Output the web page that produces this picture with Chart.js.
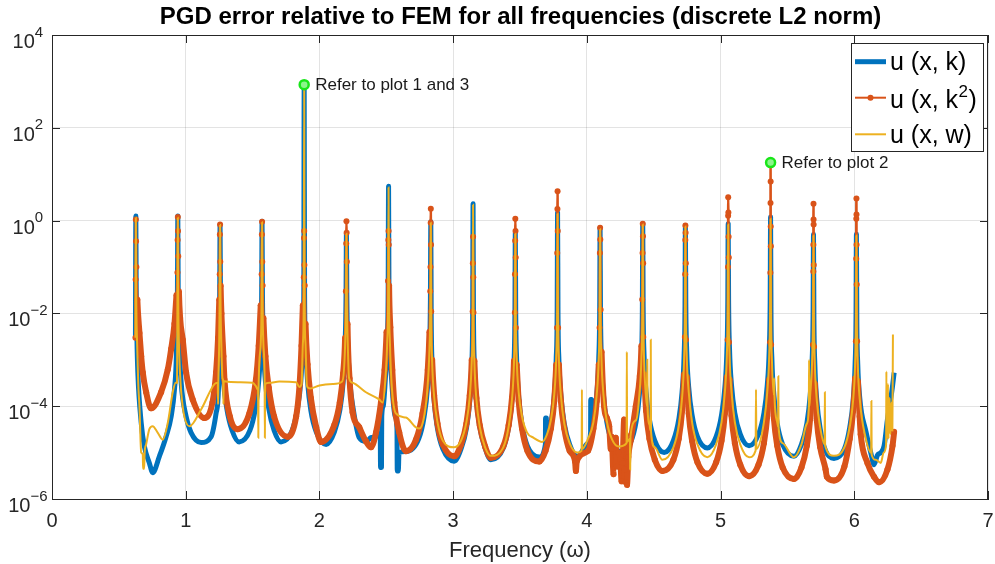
<!DOCTYPE html>
<html>
<head>
<meta charset="utf-8">
<script src="https://cdn.jsdelivr.net/npm/chart.js@4.4.1/dist/chart.umd.min.js"></script>
<style>
html,body{margin:0;padding:0;background:#ffffff;}
#wrap{width:995px;height:564px;position:relative;}
</style>
</head>
<body>
<div id="wrap"><canvas id="c" width="995" height="564"></canvas></div>
<script>
// ---------------- data ----------------
const titleText = "PGD error relative to FEM for all frequencies (discrete L2 norm)";
const xAxisTitle = "Frequency (\u03c9)";
const xTickValues = [0, 1, 2, 3, 4, 5, 6, 7];
const yTickValues = [1e-6, 1e-4, 1e-2, 1e0, 1e2, 1e4];
const seriesNames = ["u (x, k)", "u (x, k\u00b2)", "u (x, w)"];

// u(x,k)
const kFreq = [
 0.624, 0.627,
 0.630, 0.635, 0.642, 0.667, 0.691, 0.728, 0.753, 0.803, 0.853, 0.891, 0.916, 0.931, 0.938, 0.941,
 0.944, 0.951, 0.966, 1.003, 1.040, 1.115, 1.190, 1.227, 1.245, 1.251, 1.254, 1.257,
 1.260, 1.267, 1.282, 1.307, 1.347, 1.400, 1.480, 1.521, 1.546, 1.561, 1.568, 1.571,
 1.574, 1.581, 1.596, 1.621, 1.661, 1.713, 1.796, 1.836, 1.861, 1.876, 1.883, 1.886,
 1.889, 1.896, 1.911, 1.936, 1.976, 2.050, 2.112, 2.152, 2.177, 2.192, 2.199, 2.202,
 2.205, 2.212, 2.227, 2.252, 2.298, 2.348, 2.386, 2.420, 2.455, 2.457, 2.464, 2.466, 2.477, 2.492, 2.507, 2.514, 2.517,
 2.520, 2.527, 2.542, 2.567, 2.580, 2.582, 2.590, 2.595, 2.647, 2.743, 2.783, 2.808, 2.823, 2.830, 2.833,
 2.836, 2.843, 2.858, 2.883, 2.923, 3.008, 3.059, 3.099, 3.124, 3.139, 3.146, 3.149,
 3.152, 3.159, 3.174, 3.199, 3.239, 3.282, 3.375, 3.415, 3.440, 3.455, 3.462, 3.465,
 3.468, 3.475, 3.490, 3.515, 3.555, 3.644, 3.690, 3.691, 3.697, 3.698, 3.731, 3.756, 3.771, 3.778, 3.781,
 3.784, 3.791, 3.806, 3.831, 3.871, 3.928, 4.009, 4.028, 4.029, 4.035, 4.036, 4.049, 4.074, 4.089, 4.096, 4.099,
 4.102, 4.109, 4.124, 4.149, 4.189, 4.254, 4.328, 4.368, 4.393, 4.408, 4.415, 4.418,
 4.421, 4.428, 4.443, 4.468, 4.508, 4.578, 4.647, 4.687, 4.712, 4.727, 4.734, 4.737,
 4.740, 4.747, 4.762, 4.787, 4.827, 4.901, 4.967, 5.007, 5.032, 5.047, 5.054, 5.057,
 5.060, 5.067, 5.082, 5.107, 5.147, 5.213, 5.284, 5.324, 5.349, 5.364, 5.371, 5.374,
 5.377, 5.384, 5.399, 5.424, 5.464, 5.549, 5.605, 5.645, 5.670, 5.685, 5.692, 5.695,
 5.698, 5.705, 5.720, 5.745, 5.785, 5.848, 5.926, 5.966, 5.991, 6.006, 6.013, 6.016,
 6.019, 6.026, 6.041, 6.055, 6.083, 6.123, 6.148, 6.173, 6.198, 6.223, 6.248, 6.275, 6.286, 6.298
];
const kErr = [
 3e-3, 1.26,
 0.03, 3e-3, 5.3e-4, 4.4e-5, 1.35e-5, 6e-6, 3.7e-6, 8.3e-6, 2.2e-5, 6e-5, 2.3e-4, 1.5e-3, 0.03, 1.26,
 0.025, 2.5e-3, 3.2e-4, 6e-5, 2.7e-5, 1.65e-5, 2.2e-5, 7e-5, 2.3e-4, 2e-3, 0.025, 0.82,
 0.025, 2.2e-3, 3.5e-4, 9e-5, 3e-5, 1.7e-5, 3e-5, 9e-5, 3.5e-4, 2.2e-3, 0.025, 0.97,
 0.025, 2.2e-3, 3.5e-4, 9e-5, 3e-5, 1.7e-5, 3e-5, 9e-5, 3.5e-4, 2.2e-3, 0.025, 850,
 0.025, 2.2e-3, 3.5e-4, 8e-5, 2.8e-5, 1.5e-5, 2.8e-5, 8e-5, 3.2e-4, 2.1e-3, 0.025, 0.55,
 0.025, 2.2e-3, 3.5e-4, 9e-5, 2.1e-5, 1.75e-5, 2.1e-5, 2.2e-5, 2.6e-5, 4.8e-6, 4.8e-6, 6e-5, 1e-4, 3.5e-4, 2.5e-3, 0.03, 5.5,
 0.03, 2.5e-3, 3e-4, 6e-5, 3.2e-5, 4e-6, 4e-6, 1e-5, 1.05e-5, 2e-5, 6e-5, 2.5e-4, 1.8e-3, 0.02, 0.95,
 9e-3, 8e-4, 1.3e-4, 3.3e-5, 1.2e-5, 6.5e-6, 1.2e-5, 3.3e-5, 1.3e-4, 8e-4, 9e-3, 2.3,
 9.6e-3, 8.6e-4, 1.4e-4, 3.6e-5, 1.25e-5, 7e-6, 1.25e-5, 3.6e-5, 1.4e-4, 8.6e-4, 9.6e-3, 0.55,
 0.011, 1e-3, 1.6e-4, 4e-5, 1.4e-5, 8e-6, 1.5e-5, 5.6e-5, 5.6e-5, 2.2e-5, 4.2e-5, 1.7e-4, 1.1e-3, 0.012, 1.5,
 0.012, 1e-3, 1.7e-4, 4.2e-5, 1.5e-5, 8.3e-6, 1.6e-5, 2.8e-5, 1.4e-4, 1.4e-4, 3.4e-5, 4.5e-5, 1.8e-4, 1.1e-3, 0.012, 0.7,
 0.012, 1.1e-3, 1.8e-4, 4.6e-5, 1.7e-5, 1.05e-5, 1.7e-5, 4.6e-5, 1.8e-4, 1.1e-3, 0.012, 0.86,
 0.014, 1.2e-3, 2e-4, 5.1e-5, 1.8e-5, 1e-5, 1.8e-5, 5.1e-5, 2e-4, 1.2e-3, 0.014, 0.78,
 0.017, 1.5e-3, 2.5e-4, 6.4e-5, 2.2e-5, 1.26e-5, 2.2e-5, 6.4e-5, 2.5e-4, 1.5e-3, 0.017, 0.86,
 0.019, 1.7e-3, 2.8e-4, 7e-5, 2.5e-5, 1.4e-5, 2.5e-5, 7e-5, 2.8e-4, 1.7e-3, 0.019, 1.2,
 0.011, 1e-3, 1.7e-4, 4.2e-5, 1.5e-5, 8.3e-6, 1.5e-5, 4.2e-5, 1.7e-4, 1e-3, 0.011, 0.5,
 8.8e-3, 8e-4, 1.3e-4, 3.3e-5, 1.1e-5, 7.5e-6, 1.2e-5, 3.5e-5, 1.3e-4, 8e-4, 8.8e-3, 0.51,
 8e-3, 8e-4, 1.5e-4, 7e-5, 3.2e-5, 1e-5, 5.5e-6, 8.8e-6, 1e-5, 1.4e-5, 5.2e-5, 1.6e-4, 2.7e-4, 5.3e-4
];

// u(x,k^2)
const k2Freq = [
 0.624, 0.6255, 0.627, 0.6285,
 0.631, 0.638, 0.654, 0.667, 0.679, 0.704, 0.741, 0.816, 0.866, 0.891, 0.916, 0.931, 0.938,
 0.9395, 0.941, 0.9425, 0.944,
 0.949, 0.958, 0.978, 1.003, 1.052, 1.140, 1.200, 1.227, 1.242, 1.251, 1.2545,
 1.2555, 1.257, 1.2585,
 1.261, 1.267, 1.282, 1.290, 1.330, 1.389, 1.476, 1.525, 1.546, 1.561, 1.568,
 1.5695, 1.571, 1.5725,
 1.575, 1.581, 1.596, 1.621, 1.661, 1.762, 1.826, 1.851, 1.866, 1.876, 1.883,
 1.8845, 1.886, 1.8875,
 1.890, 1.896, 1.911, 1.936, 1.976, 2.012, 2.112, 2.152, 2.177, 2.192, 2.198,
 2.2005, 2.202, 2.2035, 2.205,
 2.210, 2.225, 2.248, 2.298, 2.348, 2.386, 2.423, 2.460, 2.487, 2.502, 2.513,
 2.5155, 2.517, 2.5185,
 2.521, 2.530, 2.545, 2.560, 2.597, 2.647, 2.722, 2.771, 2.810, 2.823, 2.829,
 2.8305, 2.832, 2.833, 2.8345,
 2.836, 2.843, 2.858, 2.883, 2.923, 3.008, 3.059, 3.099, 3.124, 3.139, 3.146,
 3.1475, 3.149, 3.1505,
 3.152, 3.159, 3.174, 3.199, 3.239, 3.282, 3.375, 3.415, 3.440, 3.455, 3.4615,
 3.4625, 3.464, 3.465, 3.4665, 3.468,
 3.469, 3.475, 3.490, 3.515, 3.555, 3.644, 3.691, 3.731, 3.756, 3.771, 3.777,
 3.7785, 3.780, 3.781, 3.7825,
 3.785, 3.791, 3.806, 3.831, 3.871, 3.912, 3.918, 3.924, 4.009, 4.049, 4.074, 4.089, 4.095,
 4.0975, 4.099, 4.1005,
 4.103, 4.110, 4.129, 4.150, 4.167, 4.179, 4.185, 4.200, 4.205, 4.216, 4.225, 4.235, 4.250, 4.260, 4.268, 4.279, 4.283, 4.291, 4.293, 4.300, 4.310, 4.329, 4.366, 4.396, 4.408, 4.414,
 4.4165, 4.418, 4.4195, 4.421,
 4.422, 4.428, 4.443, 4.468, 4.508, 4.565, 4.647, 4.687, 4.712, 4.727, 4.733,
 4.7355, 4.7365, 4.737, 4.7385, 4.740,
 4.741, 4.747, 4.762, 4.787, 4.827, 4.901, 4.967, 5.007, 5.032, 5.047, 5.053,
 5.0555, 5.0565, 5.057, 5.0585, 5.060, 5.0615,
 5.063, 5.067, 5.082, 5.107, 5.147, 5.213, 5.284, 5.324, 5.349, 5.364, 5.370,
 5.3725, 5.3735, 5.374, 5.3745, 5.375, 5.376,
 5.378, 5.384, 5.399, 5.424, 5.464, 5.549, 5.605, 5.645, 5.670, 5.685, 5.691,
 5.6935, 5.694, 5.695, 5.6955, 5.696, 5.697,
 5.699, 5.705, 5.720, 5.745, 5.785, 5.795, 5.848, 5.926, 5.966, 5.991, 6.006, 6.012,
 6.0145, 6.015, 6.016, 6.0165, 6.017, 6.018,
 6.021, 6.027, 6.040, 6.048, 6.098, 6.148, 6.185, 6.248, 6.286, 6.298
];
const k2Err = [
 3e-3, 0.054, 1.05, 0.36,
 0.1, 0.02, 3.8e-3, 1.2e-3, 5.3e-4, 2e-4, 9e-5, 2e-4, 6.2e-4, 1.7e-3, 6e-3, 0.025, 0.076,
 0.38, 1.2, 0.6, 0.17,
 0.03, 8e-3, 2.7e-3, 5.3e-4, 1.4e-4, 5.6e-5, 1.2e-4, 5.3e-4, 3e-3, 0.02, 0.07,
 0.5, 0.82, 0.13,
 0.04, 0.01, 1.2e-3, 3.7e-4, 6e-5, 3.2e-5, 7e-5, 3.7e-4, 2e-3, 0.015, 0.07,
 0.5, 0.95, 0.13,
 0.04, 8e-3, 1.2e-3, 2.5e-4, 6e-5, 2.2e-5, 6e-5, 2.8e-4, 2e-3, 0.015, 0.06,
 0.42, 0.6, 0.11,
 0.04, 6e-3, 8e-4, 1.5e-4, 3.5e-5, 1.7e-5, 4e-5, 1.2e-4, 5e-4, 3e-3, 0.03,
 0.32, 0.97, 0.55, 0.13,
 6e-3, 4e-4, 7.4e-5, 3.5e-5, 1.75e-5, 1.3e-5, 2.7e-5, 1.2e-4, 6e-4, 4e-3, 0.05,
 0.38, 0.6, 0.3,
 0.04, 5e-3, 6e-4, 1.2e-4, 2.7e-5, 1.07e-5, 1.9e-5, 7e-5, 6e-4, 4e-3, 0.03,
 0.1, 0.9, 1.8, 0.3,
 0.011, 1e-3, 1.7e-4, 4.2e-5, 1.5e-5, 8.3e-6, 1.5e-5, 4.2e-5, 1.7e-4, 1e-3, 0.011,
 0.12, 0.45, 0.06,
 0.0105, 9.5e-4, 1.5e-4, 3.9e-5, 1.36e-5, 7.7e-6, 1.36e-5, 3.9e-5, 1.5e-4, 9.5e-4, 0.0105,
 0.07, 0.37, 1.1, 0.6, 0.16,
 4.9e-3, 7.9e-4, 1.3e-4, 3.3e-5, 1.1e-5, 6.4e-6, 1.1e-5, 3.3e-5, 1.3e-4, 7.9e-4, 4.9e-3,
 0.2, 1.78, 4.3, 0.6,
 4.9e-3, 7.9e-4, 1.3e-4, 3.3e-5, 1.1e-5, 6.4e-6, 4e-6, 6.4e-6, 1.1e-5, 3.3e-5, 1.3e-4, 7.9e-4, 4.9e-3,
 0.2, 0.7, 0.39,
 0.012, 1.5e-3, 1e-4, 5.5e-5, 3.7e-5, 1.2e-5, 2.2e-5, 3.4e-6, 1.6e-5, 2.1e-5, 5e-6, 1e-5, 7e-6, 2.4e-6, 6e-6, 5.2e-5, 4.3e-6, 2.3e-6, 2.4e-5, 2e-6, 8e-6, 1.9e-5, 1e-4, 4.5e-4, 2e-3, 0.02,
 0.2, 0.86, 0.46, 0.12,
 3.1e-3, 4.9e-4, 8e-5, 2e-5, 7e-6, 4e-6, 7e-6, 2e-5, 8e-5, 4.9e-4, 3.1e-3,
 0.07, 0.38, 0.78, 0.55, 0.12,
 2.7e-3, 4.3e-4, 7e-5, 1.8e-5, 6.2e-6, 3.5e-6, 6.2e-6, 1.8e-5, 7e-5, 4.3e-4, 2.7e-3,
 0.1, 1.27, 3.2, 1.5, 0.45, 0.16,
 2.4e-3, 3.8e-4, 6.2e-5, 1.6e-5, 5.5e-6, 3.1e-6, 5.5e-6, 1.6e-5, 6.2e-5, 3.8e-4, 2.4e-3,
 0.075, 2.4, 17.8, 7, 0.75, 0.28,
 2.1e-3, 3.3e-4, 5.4e-5, 1.4e-5, 4.8e-6, 2.7e-6, 4.8e-6, 1.4e-5, 5.4e-5, 3.3e-4, 2.1e-3,
 0.08, 0.3, 2.3, 1.05, 0.82, 0.11,
 1.9e-3, 3.1e-4, 5e-5, 1.3e-5, 4.4e-6, 3e-6, 2.5e-6, 5e-6, 2e-5, 8e-5, 4e-4, 2.5e-3,
 0.15, 1.1, 3.0, 1.35, 0.3, 0.042,
 2.5e-3, 3.5e-4, 6e-5, 2.5e-5, 6e-6, 3e-6, 2.3e-6, 4.3e-6, 1.4e-5, 2.8e-5
];

// u(x,w)
const wFreq = [
 0.624, 0.627,
 0.630, 0.636, 0.645, 0.654, 0.667, 0.679, 0.681, 0.689, 0.693, 0.704, 0.728, 0.753, 0.790, 0.828, 0.866, 0.903, 0.925, 0.935, 0.938, 0.941,
 0.944, 0.950, 0.962, 0.985, 1.028, 1.115, 1.215, 1.240, 1.242, 1.244, 1.250, 1.254, 1.257,
 1.260, 1.266, 1.275, 1.280, 1.282, 1.284, 1.300, 1.400, 1.500, 1.525, 1.538, 1.541, 1.543, 1.545, 1.561, 1.568, 1.571,
 1.574, 1.581, 1.590, 1.592, 1.594, 1.625, 1.700, 1.825, 1.850, 1.866, 1.876, 1.883, 1.886,
 1.889, 1.896, 1.905, 1.910, 1.930, 2.000, 2.100, 2.170, 2.192, 2.199, 2.202,
 2.205, 2.212, 2.222, 2.248, 2.348, 2.447, 2.473, 2.492, 2.507, 2.514, 2.517,
 2.520, 2.527, 2.540, 2.572, 2.647, 2.722, 2.747, 2.783, 2.808, 2.823, 2.830, 2.833,
 2.836, 2.843, 2.858, 2.883, 2.923, 3.008, 3.059, 3.099, 3.124, 3.139, 3.146, 3.149,
 3.152, 3.159, 3.174, 3.199, 3.239, 3.282, 3.375, 3.415, 3.440, 3.455, 3.462, 3.465,
 3.468, 3.475, 3.490, 3.515, 3.553, 3.600, 3.666, 3.700, 3.731, 3.756, 3.771, 3.778, 3.781,
 3.784, 3.791, 3.806, 3.831, 3.871, 3.928, 3.961, 3.963, 3.965, 4.009, 4.049, 4.074, 4.089, 4.096, 4.099,
 4.102, 4.109, 4.124, 4.149, 4.189, 4.240, 4.297, 4.299, 4.301, 4.322, 4.324, 4.326, 4.368, 4.393, 4.408, 4.415, 4.418,
 4.421, 4.428, 4.443, 4.450, 4.452, 4.454, 4.468, 4.476, 4.478, 4.480, 4.508, 4.565, 4.647, 4.687, 4.712, 4.727, 4.734, 4.737,
 4.740, 4.747, 4.762, 4.787, 4.827, 4.901, 4.967, 5.007, 5.032, 5.047, 5.054, 5.057,
 5.060, 5.067, 5.082, 5.107, 5.147, 5.213, 5.262, 5.265, 5.268, 5.324, 5.349, 5.364, 5.371, 5.374,
 5.377, 5.384, 5.399, 5.401, 5.403, 5.424, 5.430, 5.432, 5.434, 5.464, 5.549, 5.605, 5.645, 5.660, 5.662, 5.664, 5.670, 5.685, 5.692, 5.695,
 5.698, 5.705, 5.720, 5.745, 5.778, 5.780, 5.782, 5.848, 5.926, 5.966, 5.991, 6.006, 6.013, 6.016,
 6.019, 6.026, 6.041, 6.083, 6.126, 6.128, 6.130, 6.160, 6.198, 6.220, 6.238, 6.240, 6.242, 6.250, 6.252, 6.256, 6.265, 6.270, 6.278, 6.285, 6.289
];
const wErr = [
 3e-3, 1.15,
 0.025, 2.5e-3, 3e-4, 1e-4, 1e-5, 9e-6, 4.5e-6, 4.5e-6, 1e-5, 1.5e-5, 3.2e-5, 3.7e-5, 2.7e-5, 1.9e-5, 4.4e-5, 2e-4, 3.2e-4, 3.2e-4, 0.02, 1.15,
 0.02, 2e-3, 3e-4, 7e-5, 3.7e-5, 8.5e-5, 3e-4, 3.2e-4, 1.1e-4, 3.2e-4, 2e-3, 0.025, 0.8,
 0.025, 2.5e-3, 4e-4, 3.5e-4, 1.1e-4, 3.5e-4, 3.4e-4, 3.3e-4, 3.2e-4, 2.7e-4, 2.3e-4, 2.2e-4, 2.1e-5, 2.3e-4, 2.2e-3, 0.025, 0.92,
 0.025, 2.2e-3, 3.5e-4, 2.1e-5, 3e-4, 3.2e-4, 3.4e-4, 3.3e-4, 2.6e-4, 3e-4, 2.2e-3, 0.025, 850,
 0.025, 2.2e-3, 3e-4, 2.6e-4, 2.4e-4, 2.8e-4, 3e-4, 3.4e-4, 2.1e-3, 0.025, 0.52,
 0.025, 2.2e-3, 4e-4, 3.2e-4, 2e-4, 1.4e-4, 1.2e-4, 3.5e-4, 2.5e-3, 0.03, 5.2,
 0.03, 2.5e-3, 3e-4, 7e-5, 5.7e-5, 3.5e-5, 3.3e-5, 6e-5, 2.5e-4, 1.8e-3, 0.02, 0.9,
 9e-3, 9e-4, 1.6e-4, 4.5e-5, 1.8e-5, 1.3e-5, 1.8e-5, 4.5e-5, 1.6e-4, 9e-4, 9e-3, 2.2,
 9.6e-3, 8.6e-4, 1.4e-4, 3.6e-5, 1.3e-5, 8.5e-6, 1.3e-5, 3.6e-5, 1.4e-4, 8.6e-4, 9.6e-3, 0.52,
 0.011, 1.1e-3, 2e-4, 6e-5, 2.7e-5, 2.1e-5, 1.7e-5, 2.4e-5, 5e-5, 1.8e-4, 1.1e-3, 0.012, 1.4,
 0.012, 1e-3, 1.7e-4, 4.2e-5, 1.6e-5, 1e-5, 1.1e-5, 2.3e-4, 1.2e-5, 2e-5, 4.5e-5, 1.8e-4, 1.1e-3, 0.012, 0.65,
 0.012, 1.1e-3, 1.8e-4, 4.8e-5, 1.9e-5, 1.35e-5, 1.6e-5, 1.5e-3, 1.7e-5, 2e-5, 4.3e-6, 2.2e-5, 5e-5, 1.8e-4, 1.1e-3, 0.012, 0.82,
 0.012, 1e-3, 1.5e-4, 1e-4, 1e-3, 9e-5, 4e-5, 3e-5, 2.7e-3, 2.8e-5, 1.3e-5, 7e-6, 1.3e-5, 3.7e-5, 1.5e-4, 1e-3, 0.012, 0.75,
 0.014, 1.2e-3, 2e-4, 4.5e-5, 1.5e-5, 7.9e-6, 1.5e-5, 4.5e-5, 2e-4, 1.3e-3, 0.015, 0.82,
 0.015, 1.3e-3, 2e-4, 4.5e-5, 1.5e-5, 7.9e-6, 1.1e-5, 2.3e-4, 1.2e-5, 4.5e-5, 2e-4, 1.3e-3, 0.015, 1.1,
 0.011, 1e-3, 1.7e-4, 4e-4, 1.6e-4, 4.5e-5, 3.6e-5, 4.4e-4, 3.4e-5, 1.6e-5, 7.9e-6, 1.5e-5, 4.2e-5, 9e-5, 1e-3, 1e-4, 1.7e-4, 1e-3, 0.011, 0.48,
 8.8e-3, 8e-4, 1.3e-4, 3.5e-5, 1.5e-5, 2e-4, 1.4e-5, 8.5e-6, 1.3e-5, 3.6e-5, 1.3e-4, 8e-4, 8.8e-3, 0.48,
 8e-3, 8e-4, 1.4e-4, 2.2e-5, 1e-5, 1.3e-4, 9e-6, 7e-6, 6e-6, 1e-5, 1.5e-5, 5.6e-4, 2e-5, 6e-5, 3e-4, 2e-5, 1.5e-4, 2.5e-5, 1.2e-4, 3e-5, 3.5e-3
];

// annotated points
const noteFreq = [1.886, 5.374];
const noteErr = [850, 17.8];
const noteText = ["Refer to plot 1 and 3", "Refer to plot 2"];

// ---------------- styling ----------------
const FONT = "'Liberation Sans', Arial, Helvetica, sans-serif";
const AXIS_COLOR = '#262626';
const C_BLUE = '#0072BD', C_ORANGE = '#D95319', C_YELLOW = '#EDB120';

const toPoints = (xs, ys) => xs.map((x, i) => ({ x: x, y: ys[i] }));

const decor = {
  id: 'decor',
  afterDraw(chart) {
    const ctx = chart.ctx, a = chart.chartArea;
    const xs = chart.scales.x, ys = chart.scales.y;
    ctx.save();
    // box (top and right edges) and inward tick marks
    ctx.strokeStyle = AXIS_COLOR; ctx.lineWidth = 1;
    ctx.beginPath();
    ctx.moveTo(a.left, Math.round(a.top) + 0.5); ctx.lineTo(a.right, Math.round(a.top) + 0.5);
    ctx.moveTo(Math.round(a.right) - 0.5, a.top); ctx.lineTo(Math.round(a.right) - 0.5, a.bottom);
    xTickValues.forEach(v => {
      const px = Math.round(xs.getPixelForValue(v)) + 0.5;
      ctx.moveTo(px, a.bottom); ctx.lineTo(px, a.bottom - 8);
      ctx.moveTo(px, a.top); ctx.lineTo(px, a.top + 8);
    });
    yTickValues.forEach(v => {
      const py = Math.round(ys.getPixelForValue(v)) + 0.5;
      ctx.moveTo(a.left, py); ctx.lineTo(a.left + 8, py);
      ctx.moveTo(a.right, py); ctx.lineTo(a.right - 8, py);
    });
    ctx.stroke();

    // y tick labels 10^n
    ctx.fillStyle = AXIS_COLOR; ctx.textAlign = 'left'; ctx.textBaseline = 'alphabetic';
    yTickValues.forEach(v => {
      const e = Math.round(Math.log10(v));
      const expStr = e < 0 ? '\u2212' + (-e) : String(e);
      const py = ys.getPixelForValue(v);
      ctx.font = '20px ' + FONT; const wb = ctx.measureText('10').width;
      ctx.font = '15px ' + FONT; const we = ctx.measureText(expStr).width;
      const x0 = 27.9 - (wb + we) / 2;
      ctx.font = '20px ' + FONT; ctx.fillText('10', x0, py + 13);
      ctx.font = '15px ' + FONT; ctx.fillText(expStr, x0 + wb, py + 1.5);
    });

    // annotations
    ctx.font = '17px ' + FONT; ctx.textBaseline = 'middle'; ctx.fillStyle = '#1a1a1a';
    noteText.forEach((t, i) => {
      ctx.fillText(t, xs.getPixelForValue(noteFreq[i]) + 11, ys.getPixelForValue(noteErr[i]) + 1);
    });

    // legend
    const L = { x: 851.5, y: 43.5, w: 132, h: 108 };
    ctx.fillStyle = '#ffffff'; ctx.fillRect(L.x, L.y, L.w, L.h);
    ctx.strokeStyle = AXIS_COLOR; ctx.lineWidth = 1; ctx.strokeRect(L.x, L.y, L.w, L.h);
    const rows = [61.7, 97.7, 134.3];
    const cols = [C_BLUE, C_ORANGE, C_YELLOW];
    const widths = [5, 2, 2];
    rows.forEach((ry, i) => {
      ctx.strokeStyle = cols[i]; ctx.lineWidth = widths[i]; ctx.lineCap = 'butt';
      ctx.beginPath(); ctx.moveTo(855, ry); ctx.lineTo(886, ry); ctx.stroke();
      if (i === 1) { ctx.fillStyle = C_ORANGE; ctx.beginPath(); ctx.arc(870.5, ry, 3, 0, Math.PI * 2); ctx.fill(); }
    });
    ctx.fillStyle = '#000000'; ctx.textBaseline = 'middle';
    ctx.font = '25px ' + FONT;
    ctx.fillText(seriesNames[0], 890, rows[0] + 1.5);
    ctx.fillText(seriesNames[2], 890, rows[2] + 1.5);
    // "u (x, k²)" drawn with a real raised 2
    const base2 = seriesNames[1].replace('\u00b2)', '');
    ctx.fillText(base2, 890, rows[1] + 3);
    const w1 = ctx.measureText(base2).width;
    ctx.font = '17px ' + FONT; ctx.fillText('2', 890 + w1 + 0.5, rows[1] - 5.5);
    const w2 = ctx.measureText('2').width;
    ctx.font = '25px ' + FONT; ctx.fillText(')', 890 + w1 + w2 + 1, rows[1] + 3);
    ctx.restore();
  }
};

new Chart(document.getElementById('c').getContext('2d'), {
  type: 'line',
  data: {
    datasets: [
      { label: seriesNames[0], data: toPoints(kFreq, kErr), borderColor: C_BLUE, borderWidth: 5,
        pointRadius: 0, order: 3, borderJoinStyle: 'round', cubicInterpolationMode: 'monotone' },
      { label: seriesNames[1], data: toPoints(k2Freq, k2Err), borderColor: C_ORANGE, backgroundColor: C_ORANGE,
        borderWidth: 6, pointRadius: 3, pointBorderWidth: 0, pointBackgroundColor: C_ORANGE, order: 2,
        borderJoinStyle: 'round', cubicInterpolationMode: 'monotone',
        segment: { borderWidth: c => {
          const v = Math.max(k2Err[c.p0DataIndex], k2Err[c.p1DataIndex]);
          const steep = Math.abs(c.p1.y - c.p0.y) > 40 * Math.abs(c.p1.x - c.p0.x);
          return (v >= 0.05 || steep) ? 2.5 : 6;
        } } },
      { label: seriesNames[2], data: toPoints(wFreq, wErr), borderColor: C_YELLOW, borderWidth: 2,
        pointRadius: 0, order: 1, cubicInterpolationMode: 'monotone' },
      { label: 'notes', data: toPoints(noteFreq, noteErr), showLine: false, pointRadius: 4.5,
        pointBorderWidth: 2.5, pointBorderColor: '#19e619', pointBackgroundColor: '#8cf58c', order: 0 }
    ]
  },
  options: {
    responsive: false, animation: false, devicePixelRatio: 1,
    layout: { padding: { left: 52, right: 6, top: 0, bottom: 0 } },
    plugins: {
      legend: { display: false }, tooltip: { enabled: false },
      title: { display: true, text: titleText, color: '#000000',
        font: { family: FONT, size: 24, weight: 'bold' }, padding: { top: 3, bottom: 3.2 } }
    },
    scales: {
      x: {
        type: 'linear', min: 0, max: 7,
        afterBuildTicks: s => { s.ticks = xTickValues.map(v => ({ value: v })); },
        afterFit: s => { s.height = 65; s.paddingRight = 0; s.paddingLeft = 0; },
        ticks: { color: AXIS_COLOR, font: { family: FONT, size: 20 }, padding: 10, maxRotation: 0, autoSkip: false },
        grid: { color: 'rgba(38,38,38,0.13)', drawTicks: false },
        border: { color: AXIS_COLOR, width: 1 },
        title: { display: true, text: xAxisTitle, color: AXIS_COLOR, font: { family: FONT, size: 22 }, padding: { top: 0, bottom: 0 } }
      },
      y: {
        type: 'logarithmic', min: 1e-6, max: 1e4,
        afterBuildTicks: s => { s.ticks = yTickValues.map(v => ({ value: v })); },
        afterFit: s => { s.width = 0; },
        ticks: { display: false },
        grid: { color: 'rgba(38,38,38,0.13)', drawTicks: false },
        border: { color: AXIS_COLOR, width: 1 }
      }
    }
  },
  plugins: [decor]
});
</script>
</body>
</html>
